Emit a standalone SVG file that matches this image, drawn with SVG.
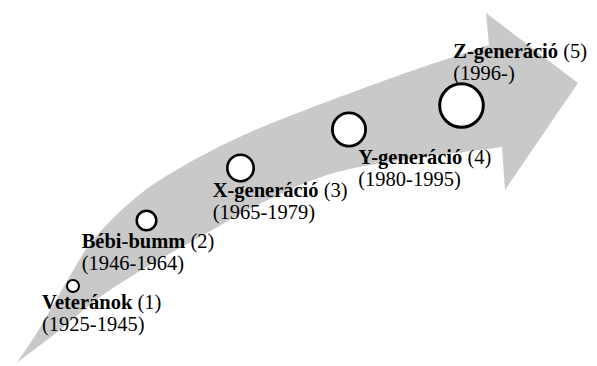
<svg xmlns="http://www.w3.org/2000/svg" width="597" height="366" viewBox="0 0 597 366">
  <style>
    .band { fill: #c9c9c9; stroke: none; }
    .dot { fill: #ffffff; stroke: #000000; }
    .lbl { font-family: "Liberation Serif", "Times New Roman", serif; font-size: 20.5px; fill: #000000; }
    .b { font-weight: bold; }
  </style>

  <!-- curved timeline arrow in the background -->
  <g id="timeline-arrow">
    <path class="band" d="M 16,364
      C 19.7,358.5 29.5,344.8 38,331
      C 46.5,317.2 57.8,296.2 67,281
      C 76.2,265.8 82,253.5 93,240
      C 104,226.5 119.7,211.3 133,200
      C 146.3,188.7 156.3,182 173,172
      C 189.7,162 211.8,150 233,140
      C 254.2,130 272.2,122.8 300,112
      C 327.8,101.2 368.5,86.2 400,75
      C 431.5,63.8 474.2,50 489,45
      L 486,13 L 578,83 L 505,190 L 502,147
      C 476.7,150.7 388.7,160.3 350,169
      C 311.3,177.7 294.2,188.2 270,199
      C 245.8,209.8 225,223 205,234
      C 185,245 167.5,254.5 150,265
      C 132.5,275.5 115.8,285.5 100,297
      C 84.2,308.5 69.2,323 55,334
      C 40.8,345 21.7,358.2 16,364 Z"/>
  </g>

  <g id="connectors"></g>

  <g id="veteranok">
    <circle class="dot" cx="73" cy="286" r="6" stroke-width="2"/>
    <text class="lbl" x="42" y="309"><tspan class="b">Veteránok</tspan> (1)</text>
    <text class="lbl" x="42" y="330.5">(1925-1945)</text>
  </g>

  <g id="bebi-bumm">
    <circle class="dot" cx="146.5" cy="220.5" r="9.8" stroke-width="2.5"/>
    <text class="lbl" x="81.7" y="248.3"><tspan class="b">Bébi-bumm</tspan> (2)</text>
    <text class="lbl" x="81.7" y="270">(1946-1964)</text>
  </g>

  <g id="x-generacio">
    <circle class="dot" cx="240.5" cy="168" r="13.2" stroke-width="2.6"/>
    <text class="lbl" x="212.7" y="197"><tspan class="b">X-generáció</tspan> (3)</text>
    <text class="lbl" x="212.7" y="218.5">(1965-1979)</text>
  </g>

  <g id="y-generacio">
    <circle class="dot" cx="349" cy="129.5" r="16.6" stroke-width="2.8"/>
    <text class="lbl" x="358.3" y="164"><tspan class="b">Y-generáció</tspan> (4)</text>
    <text class="lbl" x="358.3" y="185.7">(1980-1995)</text>
  </g>

  <g id="z-generacio">
    <circle class="dot" cx="461.5" cy="105.5" r="21.8" stroke-width="3"/>
    <text class="lbl" x="453.3" y="58.3"><tspan class="b">Z-generáció</tspan> (5)</text>
    <text class="lbl" x="453.3" y="80">(1996-)</text>
  </g>
</svg>
